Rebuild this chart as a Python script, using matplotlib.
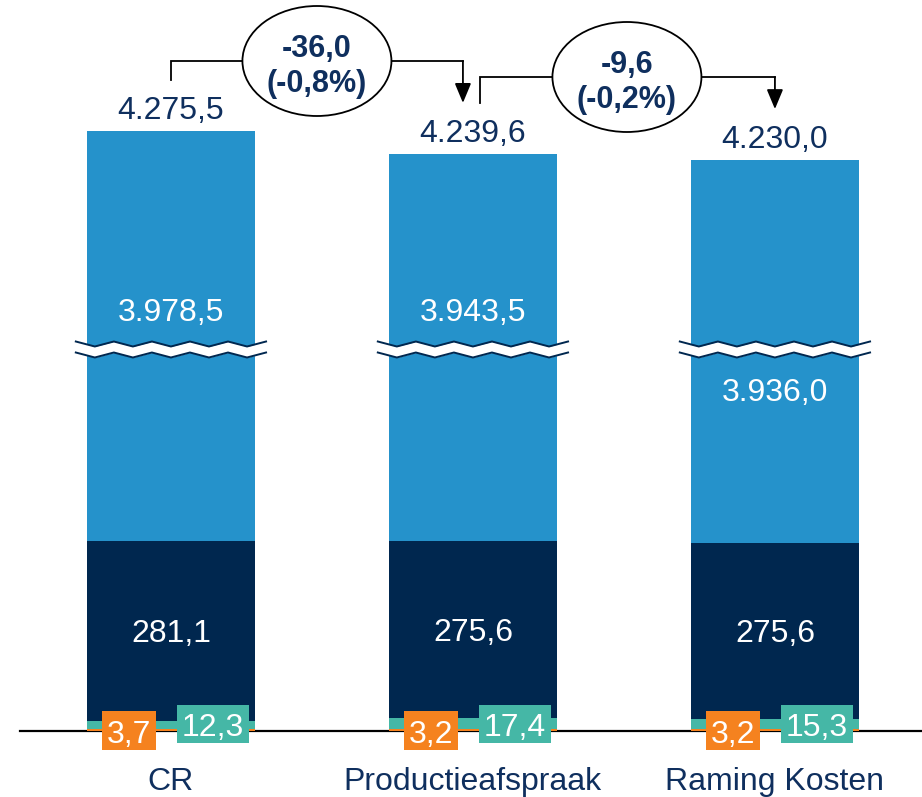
import numpy as np
import matplotlib.pyplot as plt
from matplotlib.patches import Ellipse, Rectangle

plt.rcParams['font.family'] = ['Liberation Sans', 'DejaVu Sans']

# data
categories = ['CR', 'Productieafspraak', 'Raming Kosten']
orange_vals = [3.7, 3.2, 3.2]
teal_vals = [12.3, 17.4, 15.3]
navy_vals = [281.1, 275.6, 275.6]
blue_vals = [3978.5, 3943.5, 3936.0]
totals = [4275.5, 4239.6, 4230.0]
deltas = [-36.0, -9.6]
delta_pct = [-0.8, -0.2]

# colours
c_orange = '#F5821F'
c_teal = '#45B7A6'
c_navy = '#00274F'
c_blue = '#2592CB'
c_text = '#0F2F5E'

axis_cut = 3338          # part of the light blue bar hidden by the break
px = 1 / 0.64            # data units per pixel


def nl(v, dec=1):
    s = f"{v:,.{dec}f}"
    return s.replace(',', 'X').replace('.', ',').replace('X', '.')


x = np.arange(len(categories))
width = 0.556

fig = plt.figure(figsize=(9.22, 7.97), dpi=100)
ax = fig.add_axes([0, 0, 1, 1])
ax.set_xlim(-0.566, 2.487)
ax.set_ylim(-66 * px, 731 * px)
ax.axis('off')

orange = np.array(orange_vals)
teal = np.array(teal_vals)
navy = np.array(navy_vals)
blue = np.array(blue_vals) - axis_cut

ax.plot([-0.5, 2.487], [0, 0], color='black', lw=1.6, zorder=1)
ax.bar(x, orange, width, color=c_orange, zorder=2)
ax.bar(x, teal, width, bottom=orange, color=c_teal, zorder=2)
ax.bar(x, navy, width, bottom=orange + teal, color=c_navy, zorder=2)
ax.bar(x, blue, width, bottom=orange + teal + navy, color=c_blue, zorder=2)
tops = orange + teal + navy + blue

# axis break zigzag
blue_label_y = [321, 321, 401]   # pixel rows of the light blue labels
for xc in x:
    xs = np.linspace(xc - 0.315, xc + 0.315, 11)
    wig = np.where(np.arange(11) % 2 == 0, 2.5, -2.5) * px
    up = (731 - 344) * px + wig
    lo = (731 - 355) * px + wig
    ax.fill_between(xs, lo, up, color='white', zorder=3, lw=0)
    ax.plot(xs, up, color=c_navy, lw=1.4, zorder=4)
    ax.plot(xs, lo, color=c_navy, lw=1.4, zorder=4)

fs = 23
for i, xc in enumerate(x):
    ax.text(xc, tops[i] + 12 * px, nl(totals[i]), ha='center', va='baseline',
            fontsize=fs, color=c_text, zorder=5)
    ax.text(xc, (731 - blue_label_y[i]) * px, nl(blue_vals[i]), ha='center',
            va='baseline', fontsize=fs, color='white', zorder=5)
    nav_mid = orange[i] + teal[i] + navy[i] / 2
    ax.text(xc, nav_mid - 11.5 * px, nl(navy_vals[i]), ha='center',
            va='baseline', fontsize=fs, color='white', zorder=5)
    # small value boxes
    ox = xc - 42 / 302
    ax.add_patch(Rectangle((ox - 27 / 302, -19 * px), 54 / 302, 39 * px,
                           color=c_orange, zorder=5, lw=0))
    ax.text(ox, -12 * px, nl(orange_vals[i]), ha='center', va='baseline',
            fontsize=fs, color='white', zorder=6)
    tx = xc + 42 / 302
    ax.add_patch(Rectangle((tx - 36 / 302, -12 * px), 72 / 302, 38 * px,
                           color=c_teal, zorder=5, lw=0))
    ax.text(tx, -5 * px, nl(teal_vals[i]), ha='center', va='baseline',
            fontsize=fs, color='white', zorder=6)
    ax.text(xc, -59 * px, categories[i], ha='center', va='baseline',
            fontsize=fs, color=c_text)

# change brackets with ellipses
ell_x = [(317 - 171) / 302, (627 - 171) / 302]
ell_y = [(731 - 61) * px, (731 - 77) * px]
start_x = [0.0, 1 + 7 / 302]
arrow_x = [1 - 10 / 302, 2.0]
for k in range(2):
    y0 = tops[k] + 51 * px
    y1 = tops[k + 1] + 51 * px
    ax.plot([start_x[k], start_x[k], arrow_x[k]], [y0, ell_y[k], ell_y[k]],
            color='black', lw=1.3, zorder=3, solid_joinstyle='miter')
    ax.annotate('', xy=(arrow_x[k], y1), xytext=(arrow_x[k], ell_y[k]),
                arrowprops=dict(arrowstyle='-|>,head_length=0.6,head_width=0.25',
                                mutation_scale=20, color='black', lw=1.3,
                                shrinkA=0, shrinkB=0), zorder=3)
    ax.add_patch(Ellipse((ell_x[k], ell_y[k]), 149 / 302, 110 * px,
                         facecolor='white', edgecolor='black', lw=1.3, zorder=4))
    ax.text(ell_x[k], ell_y[k] + 4 * px, nl(deltas[k]), ha='center',
            va='baseline', fontsize=22, fontweight='bold', color=c_text, zorder=5)
    ax.text(ell_x[k], ell_y[k] - 31 * px, '(' + nl(delta_pct[k]) + '%)',
            ha='center', va='baseline', fontsize=22, fontweight='bold',
            color=c_text, zorder=5)

fig.savefig('out.png', dpi=100)
